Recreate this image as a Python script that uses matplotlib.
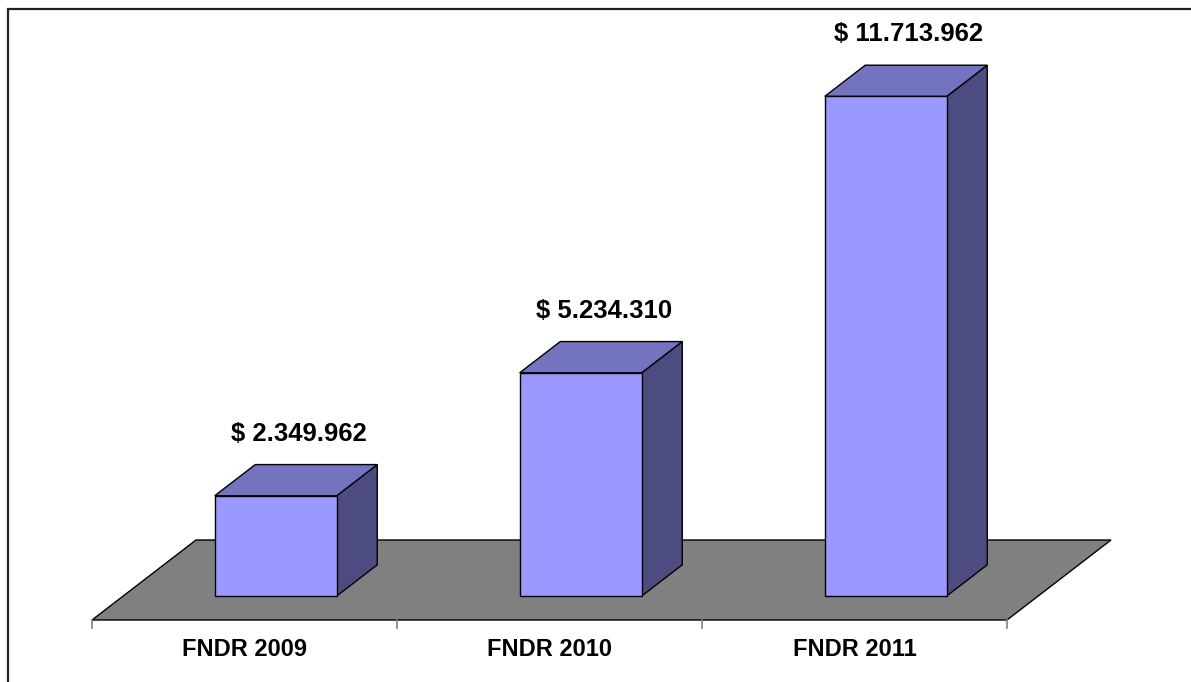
import matplotlib
matplotlib.use("Agg")
import matplotlib.pyplot as plt
from matplotlib.patches import Polygon, Rectangle

categories = ["FNDR 2009", "FNDR 2010", "FNDR 2011"]
values = [2349962, 5234310, 11713962]
value_labels = ["$ 2.349.962", "$ 5.234.310", "$ 11.713.962"]

W, H, DPI = 1191, 682, 100
fig = plt.figure(figsize=(W / DPI, H / DPI), dpi=DPI)
ax = fig.add_axes([0, 0, 1, 1])
ax.set_axis_off()

# pixel scale helpers (category spacing 305 px, 42.65 px per million)
PX_X = 1.0 / 305.0
PX_Y = 1.0 / 42.65e-6
ax.set_xlim(-0.5 - 92 * PX_X, -0.5 + (W - 92) * PX_X)
ax.set_ylim(-(H - 620) * PX_Y, 620 * PX_Y)

DX = 104 * PX_X   # depth offset
DY = 80 * PX_Y
d0, d1 = 0.30, 0.69
bw = 0.40

front_c = "#9999FF"
top_c = "#7373BF"
side_c = "#4C4C80"

n = len(categories)
# floor
floor = Polygon([(-0.5, 0), (n - 0.5, 0), (n - 0.5 + DX, DY), (-0.5 + DX, DY)],
                closed=True, facecolor="#808080", edgecolor="black", lw=1.0, zorder=1)
ax.add_patch(floor)

# ticks
for t in range(n + 1):
    ax.plot([t - 0.5, t - 0.5], [0, -8 * PX_Y], color="#808080", lw=1.2, zorder=1)

for i, (v, lab) in enumerate(zip(values, value_labels)):
    x0 = i - bw / 2 + d0 * DX
    x1 = i + bw / 2 + d0 * DX
    yb = d0 * DY
    yt = v + d0 * DY
    ddx = (d1 - d0) * DX
    ddy = (d1 - d0) * DY
    side = Polygon([(x1, yb), (x1 + ddx, yb + ddy), (x1 + ddx, yt + ddy), (x1, yt)],
                   closed=True, facecolor=side_c, edgecolor="black", lw=1.0, zorder=2)
    top = Polygon([(x0, yt), (x1, yt), (x1 + ddx, yt + ddy), (x0 + ddx, yt + ddy)],
                  closed=True, facecolor=top_c, edgecolor="black", lw=1.0, zorder=2)
    front = Rectangle((x0, yb), x1 - x0, v, facecolor=front_c, edgecolor="black",
                      lw=1.0, zorder=3)
    ax.add_patch(side)
    ax.add_patch(top)
    ax.add_patch(front)
    ax.text(i + d0 * DX + ddx / 2 + 0.01, yt + 62 * PX_Y, lab, ha="center", va="center",
            fontsize=18.5, fontweight="bold", family="Liberation Sans", color="black", zorder=5)
    ax.text(i, -30 * PX_Y, categories[i], ha="center", va="center",
            fontsize=17, fontweight="bold", family="Liberation Sans", color="black", zorder=5)

# outer chart border
fig.add_artist(Rectangle((8 / W, -0.1), 1.2, 1 - 9 / H + 0.1, transform=fig.transFigure,
                         fill=False, edgecolor="#202020", lw=1.6))

fig.savefig("out.png", dpi=DPI)
